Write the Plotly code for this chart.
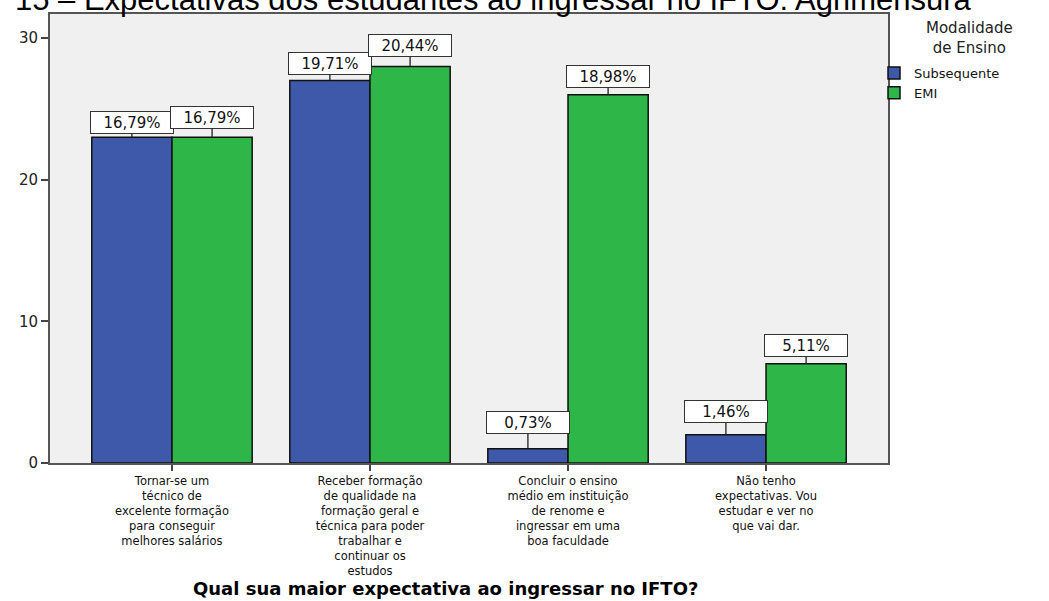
import plotly.graph_objects as go

# ---- data -------------------------------------------------------------
categories = [
    "Tornar-se um<br>técnico de<br>excelente formação<br>para conseguir<br>melhores salários",
    "Receber formação<br>de qualidade na<br>formação geral e<br>técnica para poder<br>trabalhar e<br>continuar os<br>estudos",
    "Concluir o ensino<br>médio em instituição<br>de renome e<br>ingressar em uma<br>boa faculdade",
    "Não tenho<br>expectativas. Vou<br>estudar e ver no<br>que vai dar.",
]
series_names = ["Subsequente", "EMI"]
subsequente = [23, 27, 1, 2]
emi = [23, 28, 26, 7]
y_ticks = [0, 10, 20, 30]

chart_title = "15 – Expectativas dos estudantes ao ingressar no IFTO: Agrimensura"
axis_title = "Qual sua maior expectativa ao ingressar no IFTO?"
legend_title = "Modalidade<br>de Ensino"

# ---- styling ----------------------------------------------------------
FONT = "DejaVu Sans"
COLORS = ["#3e58aa", "#2eb748"]
BAR_W = 0.405
# vertical lift (px) of each value box above its bar
label_lift = [[15, 17, 26, 23], [20, 21, 18, 18]]

W, H = 1049, 601
M_L, M_R, M_T, M_B = 50, 161, 14, 138
plot_w = W - M_L - M_R
plot_h = H - M_T - M_B


def px_x(px):
    return (px - M_L) / plot_w


def px_y(py):
    return (H - M_B - py) / plot_h


x_idx = list(range(len(categories)))
series = [subsequente, emi]
total = sum(subsequente) + sum(emi)

fig = go.Figure()
annotations = []
for s, (name, vals) in enumerate(zip(series_names, series)):
    off = -BAR_W if s == 0 else 0.0
    fig.add_trace(go.Bar(
        x=x_idx, y=vals, name=name,
        offset=off, width=BAR_W,
        marker=dict(color=COLORS[s], line=dict(color="#111111", width=1.5)),
        hoverinfo="skip",
    ))
    for i, v in enumerate(vals):
        pct = f"{v / total * 100:.2f}%".replace(".", ",")
        annotations.append(dict(
            x=i + off + BAR_W / 2, y=v, xref="x", yref="y",
            text=pct, showarrow=True, arrowhead=0, arrowwidth=1.3,
            arrowcolor="#222222", ax=0, ay=-label_lift[s][i],
            bgcolor="white", bordercolor="#333333", borderwidth=1,
            borderpad=2, width=78, height=17,
            font=dict(family=FONT, size=15, color="#111111"),
        ))

# chart heading (sits partly above the page edge)
annotations.append(dict(
    x=px_x(13), y=1, xref="paper", yref="paper",
    xanchor="left", yanchor="middle", yshift=15,
    text=chart_title, showarrow=False,
    font=dict(family="Liberation Sans", size=31, color="#000000"),
))
# category axis title
annotations.append(dict(
    x=px_x(445), y=px_y(588), xref="paper", yref="paper",
    xanchor="center", yanchor="middle",
    text=f"<b>{axis_title}</b>", showarrow=False,
    font=dict(family=FONT, size=18, color="#000000"),
))
# legend heading
annotations.append(dict(
    x=px_x(970), y=px_y(38), xref="paper", yref="paper",
    xanchor="center", yanchor="middle",
    text=legend_title, showarrow=False,
    font=dict(family=FONT, size=15, color="#222222"),
))

fig.update_layout(
    width=W, height=H, autosize=False,
    margin=dict(l=M_L, r=M_R, t=M_T, b=M_B, pad=0),
    paper_bgcolor="white", plot_bgcolor="#f0f0f0",
    barmode="overlay",
    showlegend=True,
    legend=dict(
        x=px_x(874), y=px_y(58), xanchor="left", yanchor="top",
        font=dict(family=FONT, size=13, color="#111111"),
        bgcolor="rgba(0,0,0,0)", itemclick=False, itemdoubleclick=False,
        tracegroupgap=0,
    ),
    annotations=annotations,
    font=dict(family=FONT),
)
fig.update_xaxes(
    range=[-0.616, 3.616],
    tickmode="array", tickvals=x_idx, ticktext=categories,
    ticks="outside", ticklen=6, tickwidth=1.5, tickcolor="#444444",
    tickfont=dict(family=FONT, size=11.5, color="#111111"),
    showline=True, linecolor="#555555", linewidth=2, mirror=True,
    showgrid=False, zeroline=False, fixedrange=True,
)
fig.update_yaxes(
    range=[0, 31.7],
    tickmode="array", tickvals=y_ticks, ticktext=[str(t) for t in y_ticks],
    ticks="outside", ticklen=7, tickwidth=1.5, tickcolor="#444444",
    tickfont=dict(family=FONT, size=15, color="#222222"),
    showline=True, linecolor="#555555", linewidth=2, mirror=True,
    showgrid=False, zeroline=False, fixedrange=True,
)

fig.write_html("out.html", config={"displayModeBar": False})
